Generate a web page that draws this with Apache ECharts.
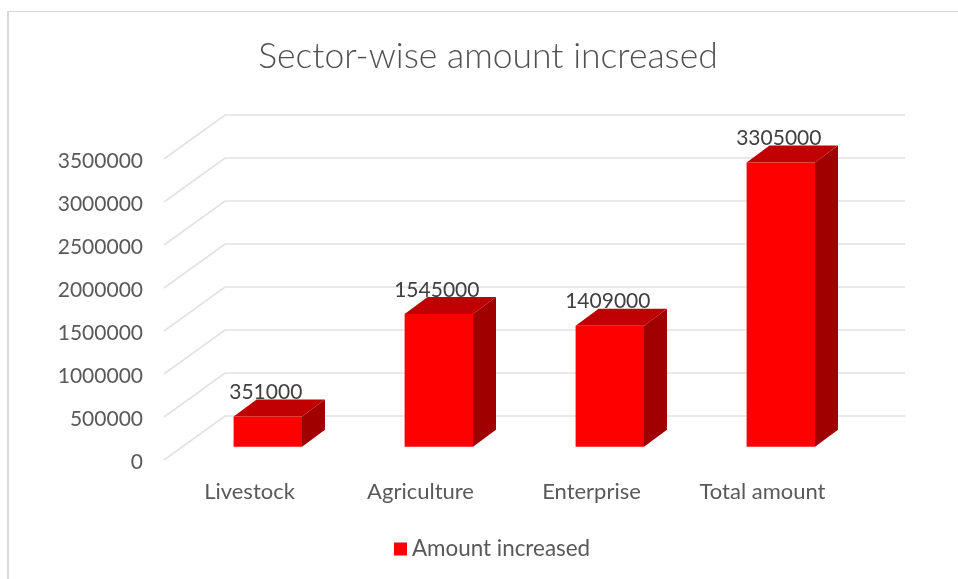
<!DOCTYPE html>
<html>
<head>
<meta charset="utf-8">
<style>html,body{margin:0;padding:0;background:#fff}#chart{width:958px;height:579px}</style>
<script src="https://cdn.jsdelivr.net/npm/echarts@6/dist/echarts.min.js"></script>
</head>
<body>
<div id="chart"></div>
<script>
const categories = ['Livestock', 'Agriculture', 'Enterprise', 'Total amount'];
const amounts = [351000, 1545000, 1409000, 3305000];
const yTicks = [0, 500000, 1000000, 1500000, 2000000, 2500000, 3000000, 3500000];

// Oblique projection of the chart box, in pixels.
const WALL_DX = 61, WALL_DY = -44;   // floor depth, front edge to back wall
const BAR_NEAR = 0.3;                // where each bar's front face sits along the depth
const BAR_DX = 23, BAR_DY = -17;     // depth of the bar itself
const BAR_RATIO = 0.4;               // bar width relative to its category band

const TEXT = '#595959';
const FONT = 'Lato, "Open Sans", sans-serif';

function renderWall(params, api) {
  const cs = params.coordSys;
  const y = api.coord([0, api.value(0)])[1];
  const x0 = cs.x, x1 = cs.x + WALL_DX, x2 = cs.x + cs.width + WALL_DX - 4;
  return {
    type: 'polyline',
    silent: true,
    shape: { points: [[x0, y], [x1, y + WALL_DY], [x2, y + WALL_DY]] },
    style: { fill: null, stroke: '#e2e2e2', lineWidth: 1.6 }
  };
}

function renderBar(params, api) {
  const idx = api.value(0), val = api.value(1);
  const center = api.coord([idx, 0]);
  const top = api.coord([idx, val]);
  const w = api.size([1, 0])[0] * BAR_RATIO;
  const ox = WALL_DX * BAR_NEAR, oy = WALL_DY * BAR_NEAR;
  const l = center[0] + ox - w / 2, r = l + w;
  const b = center[1] + oy, t = top[1] + oy;
  return {
    type: 'group',
    children: [
      { type: 'polygon', silent: true,
        shape: { points: [[r, t], [r + BAR_DX, t + BAR_DY], [r + BAR_DX, b + BAR_DY], [r, b]] },
        style: { fill: '#a00000' } },
      { type: 'polygon', silent: true,
        shape: { points: [[l, t], [l + BAR_DX, t + BAR_DY], [r + BAR_DX, t + BAR_DY], [r, t]] },
        style: { fill: '#c00000' } },
      { type: 'rect', silent: true,
        shape: { x: l, y: t, width: w, height: b - t },
        style: { fill: '#ff0000' } },
      { type: 'text', silent: true, z2: 5,
        style: { x: (l + r) / 2 - 2, y: t - 24, text: String(val), align: 'center', verticalAlign: 'middle',
                 fill: '#404040', font: '21px ' + FONT } }
    ]
  };
}

const chart = echarts.init(document.getElementById('chart'), null, { renderer: 'canvas' });
chart.setOption({
  animation: false,
  backgroundColor: '#ffffff',
  title: {
    text: 'Sector-wise amount increased',
    left: 483, top: 52, textAlign: 'center', textVerticalAlign: 'middle',
    textStyle: { color: '#505050', fontFamily: FONT, fontWeight: 300, fontSize: 35.5 }
  },
  legend: {
    data: [{ name: 'Amount increased', icon: 'rect' }],
    left: 389, top: 533, itemWidth: 13, itemHeight: 13, itemGap: 6,
    textStyle: { color: TEXT, fontFamily: FONT, fontSize: 22.4 }
  },
  grid: { left: 164, top: 159, width: 684, height: 301 },
  xAxis: {
    type: 'category',
    data: categories,
    axisLine: { show: false }, axisTick: { show: false }, splitLine: { show: false },
    axisLabel: { color: TEXT, fontFamily: FONT, fontSize: 22, margin: 21 }
  },
  yAxis: {
    type: 'value',
    min: 0, max: 3500000, interval: 500000,
    axisLine: { show: false }, axisTick: { show: false }, splitLine: { show: false },
    axisLabel: { margin: 21,
                 formatter: v => '{num|' + v + '}',
                 rich: { num: { color: TEXT, fontFamily: FONT, fontSize: 21, padding: [4, 0, 0, 0] } } }
  },
  graphic: [
    { type: 'rect', silent: true, shape: { x: 7, y: 11, width: 951, height: 1 }, style: { fill: '#d9d9d9' } },
    { type: 'rect', silent: true, shape: { x: 7, y: 11, width: 2, height: 568 }, style: { fill: '#d9d9d9' } }
  ],
  series: [
    { type: 'custom', name: 'wall', coordinateSystem: 'cartesian2d', z: 1, silent: true,
      renderItem: renderWall, data: yTicks.map(v => [v]), encode: { y: 0 } },
    { type: 'custom', name: 'Amount increased', coordinateSystem: 'cartesian2d', z: 2,
      itemStyle: { color: '#ff0000' },
      renderItem: renderBar, data: amounts.map((v, i) => [i, v]), encode: { x: 0, y: 1 } }
  ]
});
</script>
</body>
</html>
